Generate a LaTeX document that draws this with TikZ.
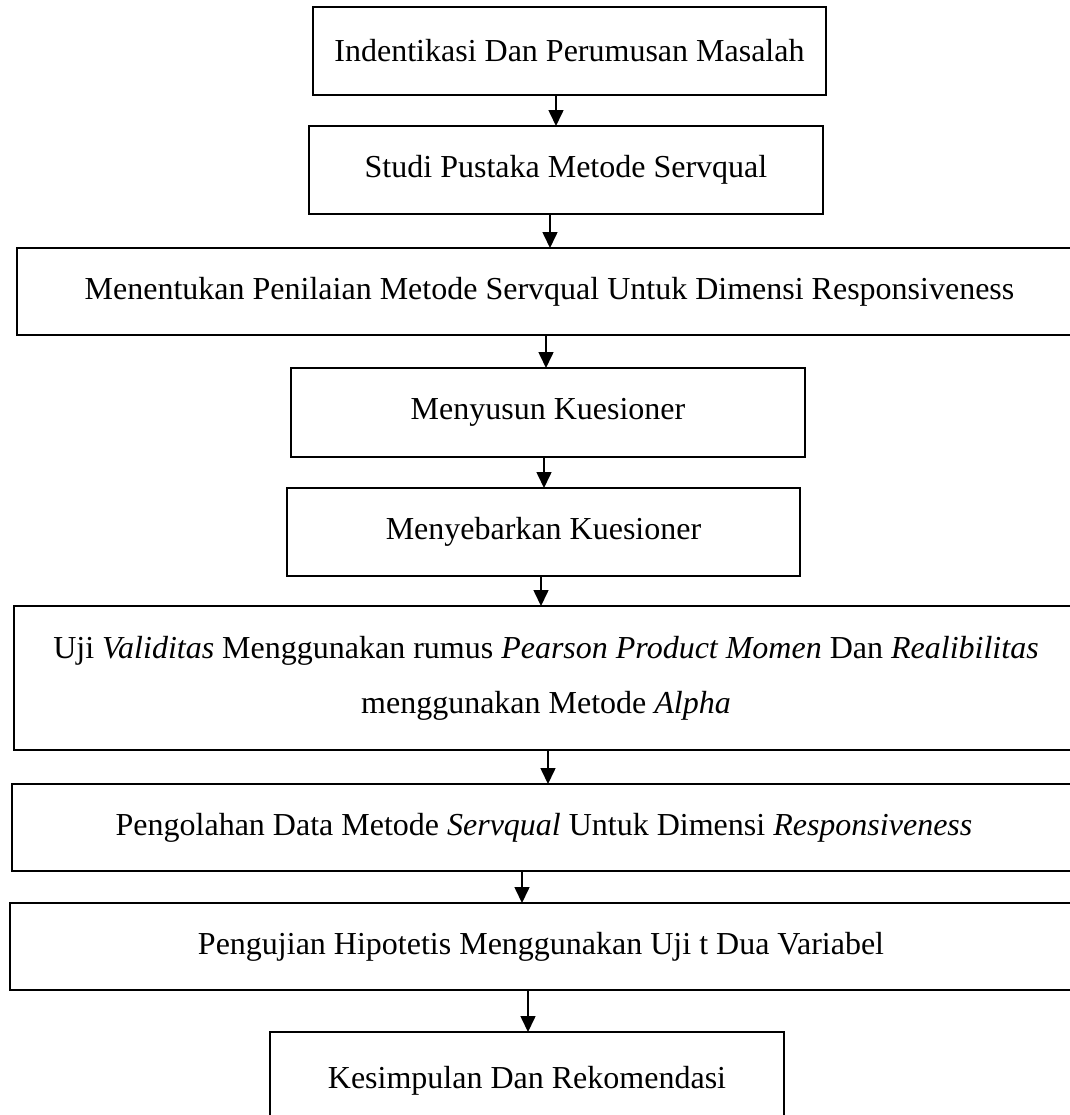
\documentclass[tikz,border=0pt]{standalone}
\usepackage{fontspec}
\setmainfont{Liberation Serif}
\usetikzlibrary{arrows.meta}

\tikzset{
  box/.style={draw, line width=1pt, inner sep=0pt, outer sep=0pt, align=center,
    font=\fontsize{16}{27.5}\selectfont},
  arr/.style={line width=0.8pt, -{Triangle[length=8pt,width=7.5pt]}}
}

\begin{document}
\begin{tikzpicture}[x=0.5pt,y=-0.5pt]
    \useasboundingbox (0,0) rectangle (1070,1115);

    \node[box, minimum width=256.5pt, minimum height=44pt] (b1) at (569.5,51) {Indentikasi Dan Perumusan Masalah};
    \node[box, minimum width=257pt, minimum height=44pt] (b2) at (566,170) {Studi Pustaka Metode Servqual};
    \node[box, minimum width=532.5pt, minimum height=43.5pt] (b3) at (549.5,291.5) {Menentukan Penilaian Metode Servqual Untuk Dimensi Responsiveness};
    \node[box, minimum width=257pt, minimum height=44.5pt] (b4) at (548,412.5) {Menyusun Kuesioner};
    \node[box, minimum width=256.5pt, minimum height=44pt] (b5) at (543.5,532) {Menyebarkan Kuesioner};
    \node[box, minimum width=532pt, minimum height=72pt] (b6) at (546,678) {Uji \textit{Validitas} Menggunakan rumus \textit{Pearson Product Momen} Dan \textit{Realibilitas}\\ menggunakan Metode \textit{Alpha}};
    \node[box, minimum width=532pt, minimum height=43.5pt] (b7) at (544,827.5) {Pengolahan Data Metode \textit{Servqual} Untuk Dimensi \textit{Responsiveness}};
    \node[box, minimum width=531pt, minimum height=43.5pt] (b8) at (541,946.5) {Pengujian Hipotetis Menggunakan Uji t Dua Variabel};
    \node[box, minimum width=257pt, minimum height=49pt] (b9) at (527,1081) {Kesimpulan Dan Rekomendasi};

    \draw[arr] (b1.south -| 556,0) -- (b2.north -| 556,0);
    \draw[arr] (b2.south -| 550,0) -- (b3.north -| 550,0);
    \draw[arr] (b3.south -| 546,0) -- (b4.north -| 546,0);
    \draw[arr] (b4.south -| 544,0) -- (b5.north -| 544,0);
    \draw[arr] (b5.south -| 541,0) -- (b6.north -| 541,0);
    \draw[arr] (b6.south -| 548,0) -- (b7.north -| 548,0);
    \draw[arr] (b7.south -| 522,0) -- (b8.north -| 522,0);
    \draw[arr] (b8.south -| 528,0) -- (b9.north -| 528,0);
\end{tikzpicture}
\end{document}
